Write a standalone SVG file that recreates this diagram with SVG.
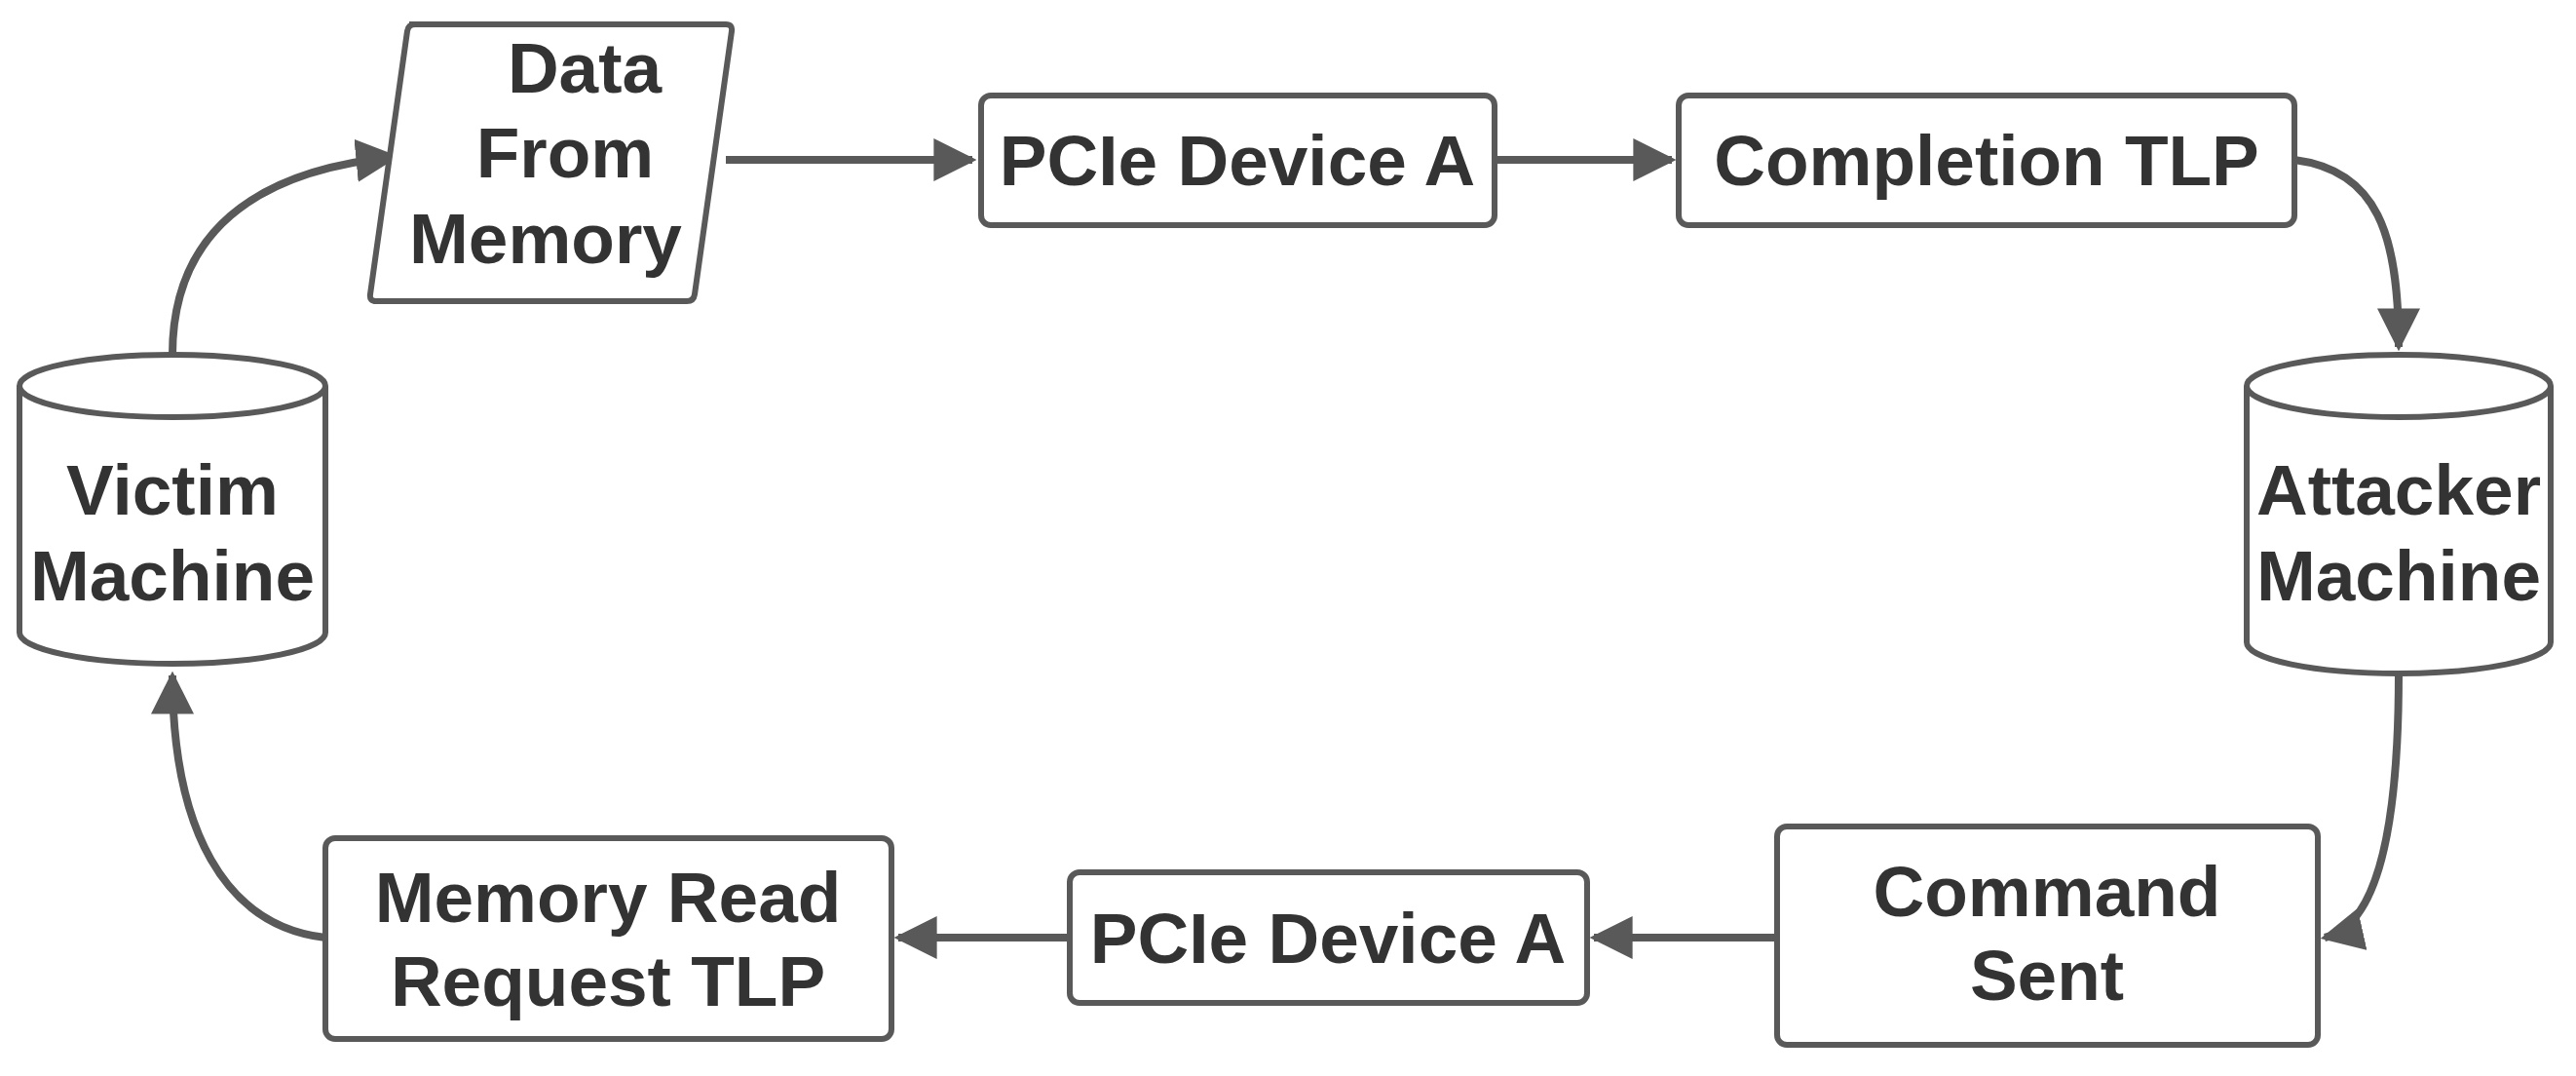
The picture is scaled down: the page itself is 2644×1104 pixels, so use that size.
<svg xmlns="http://www.w3.org/2000/svg" width="2644" height="1104" viewBox="0 0 2644 1104">
<style>
.s{fill:#fff;stroke:#595959;stroke-width:6}
.t{font-family:"Liberation Sans",Arial,sans-serif;font-weight:bold;font-size:73px;fill:#333;text-anchor:middle}
.c{fill:none;stroke:#595959;stroke-width:8;marker-end:url(#a)}
</style>
<defs><marker id="a" viewBox="0 0 10 10" refX="9" refY="5" markerWidth="5.5" markerHeight="5.5" orient="auto" markerUnits="strokeWidth"><path d="M0,0L10,5L0,10z" fill="#595959"/></marker></defs>
<rect width="2644" height="1104" fill="#fff"/>
<g id="connectors">
<path class="c" d="M177,364C177,240 260,175 405,161"/>
<path class="c" d="M745,164H998"/>
<path class="c" d="M1534,164H1716"/>
<path class="c" d="M2355,164C2440,175 2462,240 2462,356"/>
<path class="c" d="M2462,691C2462,850 2440,950 2386,962"/>
<path class="c" d="M1824,962H1636"/>
<path class="c" d="M1098,962H922"/>
<path class="c" d="M334,962C230,950 177,850 177,693"/>
</g>
<g id="data"><path class="s" d="M420,25H745Q752,25 751,32L713,302Q712,309 705,309H386Q379,309 380,302L418,32Q419,25 426,25Z"/>
<text class="t" x="600" y="95">Data</text><text class="t" x="580" y="182">From</text><text class="t" x="560" y="270">Memory</text></g>
<g id="pcie1"><rect class="s" x="1007" y="98" width="527" height="133" rx="10"/><text class="t" x="1270" y="190">PCIe Device A</text></g>
<g id="completion"><rect class="s" x="1723" y="98" width="632" height="133" rx="10"/><text class="t" x="2039" y="190">Completion TLP</text></g>
<g id="attacker"><path class="s" d="M2306,396V659A156,32 0 0 0 2618,659V396A156,32 0 0 0 2306,396Z"/><path class="s" d="M2306,396A156,32 0 0 0 2618,396"/>
<text class="t" x="2462" y="528">Attacker</text><text class="t" x="2462" y="616">Machine</text></g>
<g id="victim"><path class="s" d="M20,396V649A157,32 0 0 0 334,649V396A157,32 0 0 0 20,396Z"/><path class="s" d="M20,396A157,32 0 0 0 334,396"/>
<text class="t" x="177" y="528">Victim</text><text class="t" x="177" y="616">Machine</text></g>
<g id="memread"><rect class="s" x="334" y="860" width="581" height="206" rx="10"/><text class="t" x="624" y="946">Memory Read</text><text class="t" x="624" y="1032">Request TLP</text></g>
<g id="pcie2"><rect class="s" x="1098" y="895" width="531" height="134" rx="10"/><text class="t" x="1363" y="988">PCIe Device A</text></g>
<g id="command"><rect class="s" x="1824" y="848" width="555" height="224" rx="10"/><text class="t" x="2101" y="940">Command</text><text class="t" x="2101" y="1026">Sent</text></g>
</svg>
